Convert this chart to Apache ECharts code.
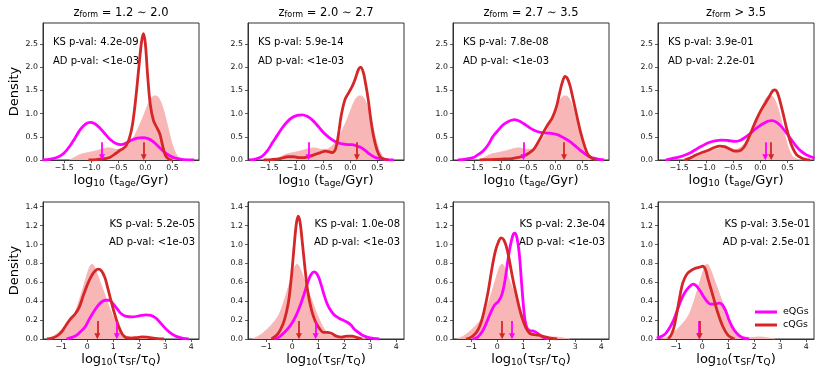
<!DOCTYPE html>
<html>
<head>
<meta charset="utf-8">
<script src="https://cdn.jsdelivr.net/npm/echarts@6/dist/echarts.min.js"></script>
<style>html,body{margin:0;padding:0;background:#fff}#c{width:831px;height:379px}</style>
</head>
<body>
<div id="c"></div>
<script>
// ---------- DATA ----------
const zformLabels = ['= 1.2 \u223c 2.0', '= 2.0 \u223c 2.7', '= 2.7 \u223c 3.5', '> 3.5'];
const xTicksAge = [-1.5, -1.0, -0.5, 0.0, 0.5];
const xTicksTau = [-1, 0, 1, 2, 3, 4];
const yTicksAge = [0.0, 0.5, 1.0, 1.5, 2.0, 2.5];
const yTicksTau = [0.0, 0.2, 0.4, 0.6, 0.8, 1.0, 1.2, 1.4];

const ksAge = ['4.2e-09', '5.9e-14', '7.8e-08', '3.9e-01'];
const adAge = ['<1e-03', '<1e-03', '<1e-03', '2.2e-01'];
const ksTau = ['5.2e-05', '1.0e-08', '2.3e-04', '3.5e-01'];
const adTau = ['<1e-03', '<1e-03', '<1e-03', '2.5e-01'];

// median arrows
const eqgMedAge = [-0.8, -0.77, -0.59, 0.09];
const cqgMedAge = [-0.03, 0.12, 0.16, 0.2];
const eqgMedTau = [1.14, 0.9, 0.57, -0.12];
const cqgMedTau = [0.39, 0.26, 0.19, -0.1];

// shaded reference distributions
const allAge = [[-1.40,0],[-1.30,0.06],[-1.20,0.12],[-1.05,0.16],[-0.90,0.2],[-0.75,0.25],[-0.65,0.26],[-0.55,0.23],[-0.45,0.23],[-0.35,0.29],[-0.25,0.42],[-0.15,0.64],[-0.05,0.9],[0.03,1.14],[0.1,1.32],[0.17,1.38],[0.23,1.36],[0.3,1.2],[0.37,0.92],[0.44,0.58],[0.5,0.32],[0.56,0.14],[0.62,0.05],[0.7,0.01],[0.8,0]];
const allTau = [[-1.55,0],[-1.3,0.03],[-1.1,0.07],[-0.9,0.12],[-0.7,0.18],[-0.5,0.26],[-0.35,0.37],[-0.2,0.5],[-0.05,0.64],[0.05,0.73],[0.13,0.78],[0.2,0.79],[0.28,0.76],[0.38,0.69],[0.5,0.6],[0.62,0.51],[0.75,0.41],[0.9,0.3],[1.05,0.2],[1.2,0.12],[1.35,0.06],[1.5,0.03],[1.7,0.02],[1.9,0.015],[2.1,0.02],[2.3,0.02],[2.5,0.012],[2.8,0]];

// eQGs, log10(t_age)
const eqgAge1 = [[-1.9,0],[-1.75,0.02],[-1.6,0.07],[-1.5,0.15],[-1.4,0.29],[-1.3,0.47],[-1.2,0.66],[-1.1,0.78],[-1.02,0.81],[-0.95,0.79],[-0.85,0.7],[-0.75,0.57],[-0.65,0.44],[-0.55,0.36],[-0.45,0.33],[-0.35,0.37],[-0.25,0.43],[-0.15,0.47],[-0.05,0.48],[0.05,0.46],[0.15,0.39],[0.25,0.28],[0.35,0.17],[0.45,0.09],[0.55,0.04],[0.7,0.01],[0.9,0]];
const eqgAge2 = [[-1.87,0],[-1.75,0.02],[-1.63,0.08],[-1.53,0.2],[-1.44,0.37],[-1.35,0.53],[-1.26,0.69],[-1.17,0.82],[-1.08,0.91],[-0.98,0.96],[-0.89,0.97],[-0.8,0.94],[-0.71,0.87],[-0.62,0.76],[-0.52,0.62],[-0.43,0.52],[-0.34,0.44],[-0.25,0.38],[-0.16,0.35],[-0.05,0.33],[0.03,0.33],[0.12,0.3],[0.21,0.26],[0.28,0.2],[0.35,0.13],[0.45,0.06],[0.55,0.03],[0.65,0.01],[0.8,0]];
const eqgAge3 = [[-1.8,0],[-1.65,0.02],[-1.5,0.06],[-1.42,0.12],[-1.33,0.2],[-1.24,0.33],[-1.15,0.51],[-1.05,0.65],[-0.96,0.76],[-0.85,0.84],[-0.75,0.87],[-0.65,0.83],[-0.53,0.74],[-0.44,0.67],[-0.35,0.62],[-0.25,0.59],[-0.15,0.58],[-0.05,0.57],[0.05,0.54],[0.15,0.48],[0.25,0.41],[0.35,0.32],[0.45,0.22],[0.55,0.13],[0.65,0.06],[0.75,0.03],[0.9,0]];
const eqgAge4 = [[-1.75,0],[-1.6,0.04],[-1.45,0.08],[-1.3,0.15],[-1.2,0.22],[-1.08,0.3],[-0.96,0.37],[-0.84,0.41],[-0.72,0.43],[-0.6,0.42],[-0.47,0.4],[-0.38,0.42],[-0.29,0.48],[-0.2,0.56],[-0.11,0.65],[-0.02,0.73],[0.08,0.8],[0.15,0.84],[0.22,0.85],[0.3,0.81],[0.38,0.73],[0.47,0.6],[0.57,0.44],[0.66,0.3],[0.75,0.19],[0.85,0.11],[0.93,0.07],[1.0,0.04]];

// cQGs, log10(t_age)
const cqgAge1 = [[-1.05,0],[-0.9,0.01],[-0.75,0.03],[-0.65,0.06],[-0.55,0.14],[-0.48,0.2],[-0.42,0.24],[-0.36,0.3],[-0.3,0.45],[-0.24,0.75],[-0.18,1.3],[-0.12,2.0],[-0.07,2.55],[-0.035,2.72],[0.0,2.5],[0.04,1.85],[0.09,1.2],[0.15,0.85],[0.22,0.68],[0.27,0.55],[0.32,0.3],[0.37,0.1],[0.43,0.02],[0.5,0]];
const cqgAge2 = [[-1.6,0],[-1.45,0.01],[-1.3,0.03],[-1.15,0.07],[-1.05,0.07],[-0.95,0.05],[-0.85,0.05],[-0.75,0.08],[-0.65,0.12],[-0.55,0.16],[-0.46,0.19],[-0.4,0.18],[-0.33,0.16],[-0.27,0.25],[-0.22,0.55],[-0.17,0.95],[-0.1,1.3],[-0.03,1.45],[0.04,1.6],[0.1,1.78],[0.15,1.95],[0.19,2.0],[0.24,1.88],[0.28,1.65],[0.33,1.3],[0.38,0.85],[0.43,0.5],[0.49,0.22],[0.55,0.07],[0.62,0.02],[0.7,0]];
const cqgAge3 = [[-1.4,0],[-1.2,0.01],[-1.0,0.02],[-0.8,0.03],[-0.7,0.05],[-0.6,0.08],[-0.5,0.14],[-0.4,0.23],[-0.3,0.42],[-0.22,0.6],[-0.14,0.76],[-0.06,0.9],[0.02,1.15],[0.08,1.45],[0.13,1.68],[0.18,1.8],[0.22,1.76],[0.27,1.6],[0.33,1.3],[0.4,0.93],[0.47,0.58],[0.54,0.3],[0.6,0.12],[0.67,0.04],[0.75,0]];
const cqgAge4 = [[-1.4,0],[-1.3,0.04],[-1.2,0.1],[-1.08,0.16],[-0.96,0.21],[-0.85,0.27],[-0.75,0.3],[-0.66,0.29],[-0.57,0.24],[-0.47,0.19],[-0.38,0.2],[-0.3,0.28],[-0.23,0.44],[-0.15,0.66],[-0.07,0.88],[0.02,1.09],[0.1,1.24],[0.17,1.38],[0.23,1.49],[0.27,1.51],[0.31,1.46],[0.36,1.28],[0.42,1.0],[0.48,0.7],[0.54,0.44],[0.6,0.25],[0.67,0.11],[0.75,0.05],[0.85,0.01],[0.92,0]];

// eQGs, log10(tau_SF/tau_Q)
const eqgTau1 = [[-0.8,0],[-0.55,0.02],[-0.4,0.04],[-0.25,0.08],[-0.1,0.12],[0.1,0.22],[0.3,0.31],[0.5,0.38],[0.7,0.41],[0.85,0.41],[1.0,0.37],[1.15,0.32],[1.3,0.27],[1.5,0.24],[1.75,0.235],[2.0,0.245],[2.25,0.255],[2.45,0.25],[2.65,0.22],[2.85,0.16],[3.05,0.1],[3.25,0.055],[3.45,0.025],[3.7,0.007],[3.9,0]];
const eqgTau2 = [[-0.7,0],[-0.5,0.02],[-0.34,0.06],[-0.1,0.13],[0.1,0.22],[0.3,0.35],[0.45,0.47],[0.6,0.6],[0.72,0.68],[0.83,0.71],[0.95,0.69],[1.05,0.63],[1.19,0.5],[1.32,0.39],[1.44,0.32],[1.6,0.26],[1.8,0.22],[1.95,0.2],[2.1,0.18],[2.25,0.15],[2.4,0.1],[2.55,0.07],[2.7,0.04],[2.95,0.015],[3.35,0]];
const eqgTau3 = [[-0.95,0],[-0.75,0.02],[-0.55,0.09],[-0.4,0.18],[-0.25,0.28],[-0.1,0.36],[0.05,0.4],[0.18,0.47],[0.3,0.62],[0.42,0.85],[0.53,1.02],[0.62,1.11],[0.68,1.12],[0.76,1.07],[0.85,0.9],[0.93,0.62],[1.0,0.38],[1.07,0.2],[1.15,0.11],[1.25,0.09],[1.37,0.085],[1.5,0.07],[1.65,0.04],[1.8,0.015],[2.0,0]];
const eqgTau4 = [[-1.75,0.01],[-1.55,0.03],[-1.4,0.06],[-1.25,0.12],[-1.1,0.2],[-0.95,0.31],[-0.8,0.42],[-0.65,0.5],[-0.5,0.55],[-0.35,0.58],[-0.22,0.56],[-0.08,0.51],[0.05,0.45],[0.18,0.4],[0.32,0.37],[0.5,0.37],[0.65,0.38],[0.78,0.36],[0.9,0.3],[1.02,0.21],[1.15,0.13],[1.3,0.07],[1.45,0.03],[1.6,0.01],[1.8,0]];

// cQGs, log10(tau_SF/tau_Q)
const cqgTau1 = [[-1.55,0],[-1.35,0.01],[-1.17,0.03],[-1.0,0.07],[-0.85,0.13],[-0.65,0.21],[-0.45,0.27],[-0.3,0.34],[-0.15,0.46],[0.0,0.57],[0.15,0.66],[0.3,0.72],[0.43,0.74],[0.55,0.72],[0.68,0.65],[0.8,0.53],[0.92,0.4],[1.05,0.27],[1.2,0.14],[1.35,0.05],[1.5,0.015],[1.7,0.01],[1.9,0.015],[2.1,0.022],[2.3,0.02],[2.5,0.012],[2.7,0.005],[2.95,0]];
const cqgTau2 = [[-0.8,0],[-0.6,0.04],[-0.45,0.1],[-0.3,0.2],[-0.15,0.38],[-0.03,0.66],[0.08,1.0],[0.16,1.22],[0.23,1.3],[0.3,1.24],[0.38,1.05],[0.48,0.78],[0.6,0.5],[0.75,0.3],[0.9,0.18],[1.05,0.11],[1.2,0.07],[1.35,0.07],[1.5,0.06],[1.7,0.03],[1.9,0.02],[2.1,0.03],[2.3,0.03],[2.5,0.015],[2.7,0]];
const cqgTau3 = [[-1.2,0],[-1.0,0.02],[-0.8,0.07],[-0.65,0.15],[-0.5,0.3],[-0.35,0.5],[-0.2,0.75],[-0.07,0.93],[0.05,1.03],[0.15,1.07],[0.25,1.05],[0.35,0.98],[0.45,0.86],[0.55,0.71],[0.65,0.57],[0.75,0.45],[0.85,0.33],[0.95,0.23],[1.1,0.12],[1.25,0.06],[1.45,0.045],[1.6,0.04],[1.8,0.025],[2.0,0.012],[2.3,0]];
const cqgTau4 = [[-1.3,0],[-1.18,0.05],[-1.08,0.13],[-0.98,0.27],[-0.88,0.42],[-0.78,0.56],[-0.68,0.64],[-0.55,0.7],[-0.4,0.73],[-0.25,0.75],[-0.1,0.76],[0.02,0.77],[0.12,0.74],[0.22,0.64],[0.42,0.45],[0.61,0.27],[0.8,0.13],[0.99,0.04],[1.15,0.01],[1.25,0]];

// ---------- LAYOUT / STYLE ----------
const FONT = 'DejaVu Sans';
const MAG = '#ff00ff', RED = '#d62728', FILL = '#f8b7b6', AX = '#333';
const colLeft = [43, 248, 453, 658];
const W = 156, H = 137;
const rowTop = [23, 202];

const eqgAge = [eqgAge1, eqgAge2, eqgAge3, eqgAge4];
const cqgAge = [cqgAge1, cqgAge2, cqgAge3, cqgAge4];
const eqgTau = [eqgTau1, eqgTau2, eqgTau3, eqgTau4];
const cqgTau = [cqgTau1, cqgTau2, cqgTau3, cqgTau4];

const fmtMinus = s => String(s).replace('-', '\u2212');
const grids = [], xAxes = [], yAxes = [], series = [], graphics = [];

for (let r = 0; r < 2; r++) {
  for (let c = 0; c < 4; c++) {
    const i = r * 4 + c;
    const top = r === 0;
    grids.push({left: colLeft[c], top: rowTop[r], width: W, height: H, show: true, borderColor: AX, borderWidth: 1, backgroundColor: 'transparent'});
    const xt = top ? xTicksAge : xTicksTau;
    xAxes.push({
      type: 'value', gridIndex: i, min: top ? -1.89 : -1.7, max: top ? 0.99 : 4.3,
      axisLine: {show: true, onZero: false, lineStyle: {color: AX, width: 1}},
      axisTick: {show: true, length: 3, lineStyle: {color: AX, width: 0.8}, customValues: xt},
      axisLabel: {customValues: xt, fontFamily: FONT, fontSize: 7.8, color: '#111', margin: 4,
        formatter: v => top ? fmtMinus(v.toFixed(1)) : fmtMinus(Math.round(v))},
      splitLine: {show: false},
      name: top ? '{m|log}{s|10}{m| (t}{s|age}{m|/Gyr)}' : '{m|log}{s|10}{m|(\u03c4}{s|SF}{m|/\u03c4}{s|Q}{m|)}',
      nameLocation: 'middle', nameGap: 13,
      nameTextStyle: {fontFamily: FONT, color: '#000', rich: {
        m: {fontFamily: FONT, fontSize: 13, color: '#000'},
        s: {fontFamily: FONT, fontSize: 9, color: '#000', verticalAlign: 'bottom', padding: [6, 0, 0, 0]}
      }}
    });
    const yt = top ? yTicksAge : yTicksTau;
    yAxes.push({
      type: 'value', gridIndex: i, min: 0, max: top ? 2.95 : 1.45,
      axisLine: {show: true, onZero: false, lineStyle: {color: AX, width: 1}},
      axisTick: {show: true, length: 3, lineStyle: {color: AX, width: 0.8}, customValues: yt},
      axisLabel: {customValues: yt, fontFamily: FONT, fontSize: 7.8, color: '#111', margin: 5, formatter: v => v.toFixed(1)},
      splitLine: {show: false},
      name: c === 0 ? 'Density' : '', nameLocation: 'middle', nameGap: 22,
      nameTextStyle: {fontFamily: FONT, fontSize: 13, color: '#000'}
    });
    const fill = top ? allAge : allTau;
    const e = top ? eqgAge[c] : eqgTau[c];
    const q = top ? cqgAge[c] : cqgTau[c];
    const em = top ? eqgMedAge[c] : eqgMedTau[c];
    const qm = top ? cqgMedAge[c] : cqgMedTau[c];
    const a0 = top ? 0.38 : 0.19, a1 = top ? 0.06 : 0.03;
    series.push({
      type: 'line', name: 'all', xAxisIndex: i, yAxisIndex: i, data: fill, smooth: 0.35,
      showSymbol: false, symbol: 'none', lineStyle: {width: 1, color: FILL}, itemStyle: {color: FILL},
      areaStyle: {color: FILL, opacity: 1}, silent: true, z: 1
    });
    const arrow = (x, col) => ({
      silent: true, symbol: ['none', 'triangle'], symbolSize: [6, 6], label: {show: false},
      lineStyle: {color: col, width: 1.8, type: 'solid'}, emphasis: {disabled: true},
      data: [[{coord: [x, a0]}, {coord: [x, a1]}]]
    });
    series.push({
      type: 'line', name: 'eQGs', xAxisIndex: i, yAxisIndex: i, data: e, smooth: 0.35,
      showSymbol: false, symbol: 'none', lineStyle: {width: 2.8, color: MAG}, itemStyle: {color: MAG},
      silent: true, z: 2, markLine: arrow(em, MAG)
    });
    series.push({
      type: 'line', name: 'cQGs', xAxisIndex: i, yAxisIndex: i, data: q, smooth: 0.35,
      showSymbol: false, symbol: 'none', lineStyle: {width: 2.8, color: RED}, itemStyle: {color: RED},
      silent: true, z: 3, markLine: arrow(qm, RED)
    });
    // KS / AD annotations
    const ks = 'KS p-val: ' + (top ? ksAge[c] : ksTau[c]);
    const ad = 'AD p-val: ' + (top ? adAge[c] : adTau[c]);
    const F = '10px "DejaVu Sans"';
    if (top) {
      graphics.push({type: 'text', left: colLeft[c] + 10, top: 37.5, z: 10, style: {text: ks, font: F, fill: '#000'}});
      graphics.push({type: 'text', left: colLeft[c] + 10, top: 56, z: 10, style: {text: ad, font: F, fill: '#000'}});
    } else {
      graphics.push({type: 'text', right: 831 - (colLeft[c] + W) + 4, top: 219, z: 10, style: {text: ks, font: F, fill: '#000'}});
      graphics.push({type: 'text', right: 831 - (colLeft[c] + W) + 4, top: 237.5, z: 10, style: {text: ad, font: F, fill: '#000'}});
    }
  }
}
// titles
for (let c = 0; c < 4; c++) {
  graphics.push({
    type: 'text', x: colLeft[c] + W / 2, y: 13, z: 10,
    style: {text: '{a|z}{b|form}{a| ' + zformLabels[c] + '}', align: 'center', verticalAlign: 'middle',
      rich: {a: {fontFamily: FONT, fontSize: 11.5, fill: '#000'}, b: {fontFamily: FONT, fontSize: 8, fill: '#000', verticalAlign: 'bottom', padding: [4, 0, 0, 0]}}}
  });
}

const chart = echarts.init(document.getElementById('c'), null, {renderer: 'canvas'});
chart.setOption({
  animation: false,
  backgroundColor: '#fff',
  grid: grids, xAxis: xAxes, yAxis: yAxes, series: series,
  graphic: graphics,
  legend: {
    data: ['eQGs', 'cQGs'], orient: 'vertical', left: 750, top: 302, itemWidth: 22, itemHeight: 3, itemGap: 3,
    icon: 'rect', selectedMode: false, textStyle: {fontFamily: FONT, fontSize: 9.5, color: '#000', padding: [0, 0, 0, 1]}
  }
});
</script>
</body>
</html>
